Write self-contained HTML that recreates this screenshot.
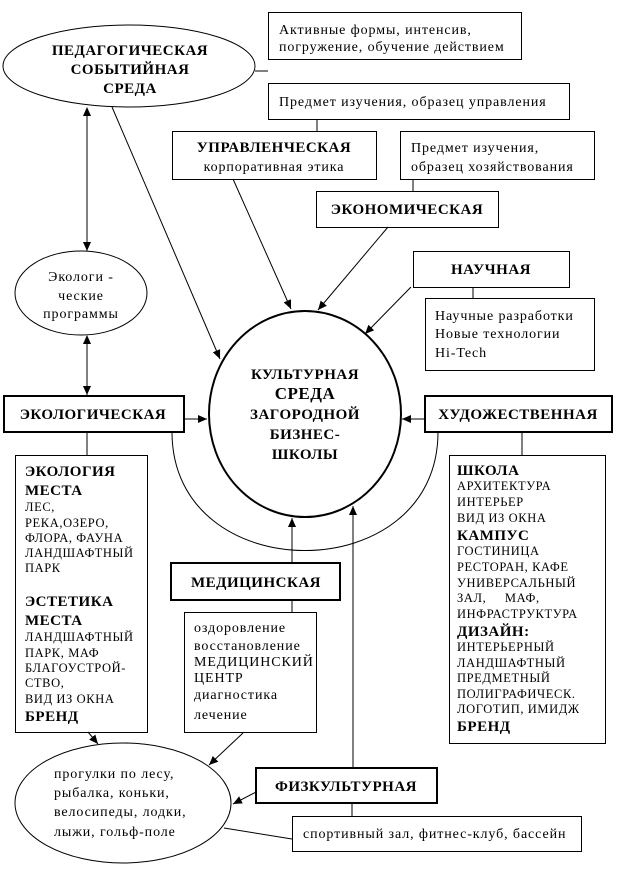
<!DOCTYPE html>
<html><head><meta charset="utf-8"><style>
html,body{margin:0;padding:0;background:#fff}
svg{display:block}
text{font-family:"Liberation Serif","DejaVu Serif",serif;fill:#000}
.b{font-weight:bold;font-size:15px;letter-spacing:0.5px}
.r{font-size:14px;letter-spacing:0.9px}
.s{font-size:12.5px;letter-spacing:0.6px}
</style></head><body>
<svg width="619" height="888" viewBox="0 0 619 888" xmlns="http://www.w3.org/2000/svg">
<defs>
<marker id="a" markerWidth="10" markerHeight="10" refX="9" refY="5" orient="auto" markerUnits="userSpaceOnUse">
<path d="M0,1 L9,5 L0,9 z" fill="#000"/></marker>
<marker id="s" markerWidth="10" markerHeight="10" refX="1" refY="5" orient="auto" markerUnits="userSpaceOnUse">
<path d="M9,1 L0,5 L9,9 z" fill="#000"/></marker>
</defs>
<g fill="none" stroke="#000" stroke-width="1">
<ellipse cx="129" cy="66" rx="126" ry="41"/>
<rect x="268.5" y="12.5" width="253" height="47"/>
<line x1="255" y1="71" x2="268" y2="71"/>
<rect x="268.5" y="83.5" width="301" height="36"/>
<line x1="317" y1="119" x2="317" y2="131"/>
<rect x="172.5" y="131.5" width="204" height="48"/>
<rect x="400.5" y="131.5" width="194" height="48"/>
<line x1="413" y1="179" x2="413" y2="191"/>
<rect x="316.5" y="191.5" width="182" height="36"/>
<rect x="413.5" y="251.5" width="156" height="36"/>
<line x1="473" y1="287" x2="473" y2="298"/>
<rect x="425.5" y="298.5" width="169" height="72"/>
<ellipse cx="81" cy="293" rx="66" ry="42"/>
<line x1="87" y1="108" x2="87" y2="251" marker-start="url(#s)" marker-end="url(#a)"/>
<line x1="87" y1="336" x2="87" y2="395" marker-start="url(#s)" marker-end="url(#a)"/>
<rect x="4" y="396" width="180" height="36" stroke-width="2"/>
<ellipse cx="305" cy="414" rx="96" ry="103" stroke-width="2"/>
<rect x="425" y="396" width="187" height="36" stroke-width="2"/>
<line x1="184" y1="419" x2="207" y2="419" marker-end="url(#a)"/>
<line x1="425" y1="419" x2="402" y2="419" marker-end="url(#a)"/>
<path d="M172,432 C172,590 438,590 438,432"/>
<rect x="15.5" y="455.5" width="132" height="277"/>
<line x1="87" y1="432" x2="87" y2="455"/>
<rect x="449.5" y="455.5" width="156" height="288"/>
<line x1="522" y1="432" x2="522" y2="455"/>
<rect x="171" y="563" width="169" height="37" stroke-width="2"/>
<line x1="292" y1="563" x2="292" y2="518" marker-end="url(#a)"/>
<rect x="184.5" y="612.5" width="132" height="120"/>
<line x1="292" y1="600" x2="292" y2="612"/>
<line x1="353" y1="767" x2="353" y2="506" marker-end="url(#a)"/>
<rect x="256" y="768" width="181" height="35" stroke-width="2"/>
<rect x="292.5" y="816.5" width="289" height="35"/>
<line x1="352" y1="803" x2="352" y2="816"/>
<ellipse cx="123" cy="803" rx="108" ry="60"/>
<line x1="88" y1="732" x2="98" y2="744" marker-end="url(#a)"/>
<line x1="243" y1="733" x2="209" y2="765" marker-end="url(#a)"/>
<line x1="256" y1="792" x2="233" y2="804" marker-end="url(#a)"/>
<line x1="224" y1="828" x2="292" y2="839"/>
<line x1="112" y1="107" x2="220" y2="359" marker-end="url(#a)"/>
<line x1="233" y1="179" x2="291" y2="309" marker-end="url(#a)"/>
<line x1="388" y1="227" x2="318" y2="310" marker-end="url(#a)"/>
<line x1="411" y1="287" x2="365" y2="334" marker-end="url(#a)"/>
</g>
<g class="b" text-anchor="middle">
<text x="130" y="55">ПЕДАГОГИЧЕСКАЯ</text>
<text x="130" y="74">СОБЫТИЙНАЯ</text>
<text x="130" y="93">СРЕДА</text>
<text x="274" y="152">УПРАВЛЕНЧЕСКАЯ</text>
<text x="407" y="214">ЭКОНОМИЧЕСКАЯ</text>
<text x="491" y="274">НАУЧНАЯ</text>
<text x="93" y="419">ЭКОЛОГИЧЕСКАЯ</text>
<text x="518" y="419">ХУДОЖЕСТВЕННАЯ</text>
<text x="256" y="587">МЕДИЦИНСКАЯ</text>
<text x="346" y="791">ФИЗКУЛЬТУРНАЯ</text>
<text x="305" y="379">КУЛЬТУРНАЯ</text>
<text x="305" y="399" style="font-size:17px">СРЕДА</text>
<text x="305" y="419">ЗАГОРОДНОЙ</text>
<text x="305" y="439">БИЗНЕС-</text>
<text x="305" y="459">ШКОЛЫ</text>
</g>
<g class="r">
<text x="279" y="34">Активные формы, интенсив,</text>
<text x="279" y="51">погружение, обучение действием</text>
<text x="279" y="106">Предмет изучения, образец управления</text>
<text x="274" y="171" text-anchor="middle">корпоративная этика</text>
<text x="411" y="152">Предмет изучения,</text>
<text x="411" y="171">образец хозяйствования</text>
<text x="435" y="320">Научные разработки</text>
<text x="435" y="338">Новые технологии</text>
<text x="435" y="357">Hi-Tech</text>
<text x="81" y="281" text-anchor="middle">Экологи -</text>
<text x="81" y="300" text-anchor="middle">ческие</text>
<text x="81" y="318" text-anchor="middle">программы</text>
<text x="194" y="632">оздоровление</text>
<text x="194" y="650">восстановление</text>
<text x="194" y="666">МЕДИЦИНСКИЙ</text>
<text x="194" y="682">ЦЕНТР</text>
<text x="194" y="699">диагностика</text>
<text x="194" y="719">лечение</text>
<text x="54" y="778">прогулки по лесу,</text>
<text x="54" y="797">рыбалка, коньки,</text>
<text x="54" y="816">велосипеды, лодки,</text>
<text x="54" y="836">лыжи, гольф-поле</text>
<text x="303" y="838">спортивный зал, фитнес-клуб, бассейн</text>
</g>
<g>
<text x="25" y="476" class="b">ЭКОЛОГИЯ</text>
<text x="25" y="495" class="b">МЕСТА</text>
<text x="25" y="511" class="s">ЛЕС,</text>
<text x="25" y="527" class="s">РЕКА,ОЗЕРО,</text>
<text x="25" y="542" class="s">ФЛОРА, ФАУНА</text>
<text x="25" y="557" class="s">ЛАНДШАФТНЫЙ</text>
<text x="25" y="572" class="s">ПАРК</text>
<text x="25" y="606" class="b">ЭСТЕТИКА</text>
<text x="25" y="625" class="b">МЕСТА</text>
<text x="25" y="641" class="s">ЛАНДШАФТНЫЙ</text>
<text x="25" y="657" class="s">ПАРК, МАФ</text>
<text x="25" y="672" class="s">БЛАГОУСТРОЙ-</text>
<text x="25" y="687" class="s">СТВО,</text>
<text x="25" y="703" class="s">ВИД ИЗ ОКНА</text>
<text x="25" y="721" class="b">БРЕНД</text>
<text x="457" y="475" class="b">ШКОЛА</text>
<text x="457" y="490" class="s">АРХИТЕКТУРА</text>
<text x="457" y="506" class="s">ИНТЕРЬЕР</text>
<text x="457" y="522" class="s">ВИД ИЗ ОКНА</text>
<text x="457" y="540" class="b">КАМПУС</text>
<text x="457" y="555" class="s">ГОСТИНИЦА</text>
<text x="457" y="571" class="s">РЕСТОРАН, КАФЕ</text>
<text x="457" y="587" class="s">УНИВЕРСАЛЬНЫЙ</text>
<text x="457" y="602" class="s" xml:space="preserve">ЗАЛ,     МАФ,</text>
<text x="457" y="618" class="s">ИНФРАСТРУКТУРА</text>
<text x="457" y="636" class="b">ДИЗАЙН:</text>
<text x="457" y="651" class="s">ИНТЕРЬЕРНЫЙ</text>
<text x="457" y="667" class="s">ЛАНДШАФТНЫЙ</text>
<text x="457" y="682" class="s">ПРЕДМЕТНЫЙ</text>
<text x="457" y="698" class="s">ПОЛИГРАФИЧЕСК.</text>
<text x="457" y="713" class="s">ЛОГОТИП, ИМИДЖ</text>
<text x="457" y="731" class="b">БРЕНД</text>
</g>
</svg>
</body></html>
